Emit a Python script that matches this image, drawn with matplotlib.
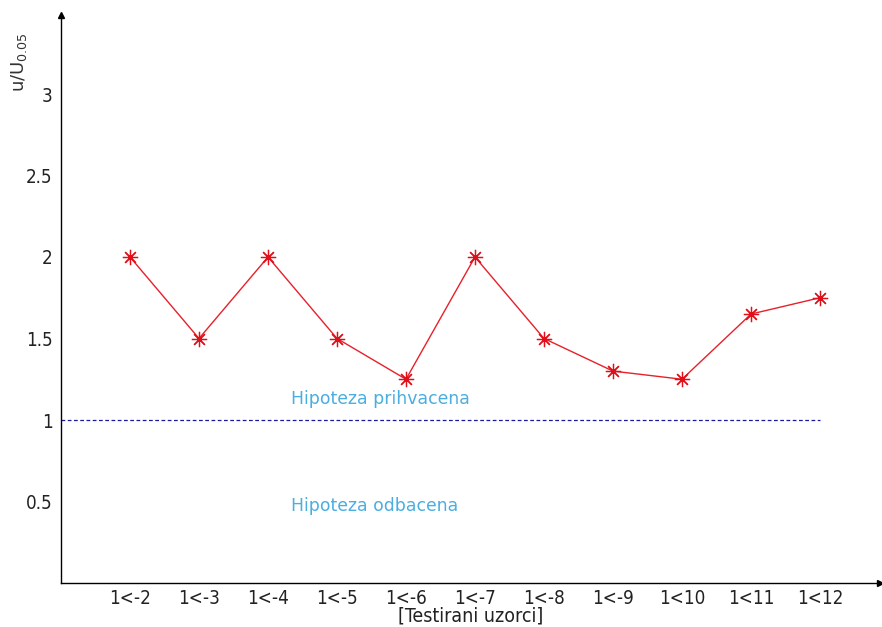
import matplotlib
matplotlib.use("Agg")
import matplotlib.pyplot as plt

plt.rcParams['font.family'] = ['DejaVu Sans']

categories = ["1<-2", "1<-3", "1<-4", "1<-5", "1<-6", "1<-7", "1<-8", "1<-9", "1<10", "1<11", "1<12"]
values = [2.0, 1.5, 2.0, 1.5, 1.25, 2.0, 1.5, 1.3, 1.25, 1.65, 1.75]
threshold = 1.0
yticks = [0.5, 1, 1.5, 2, 2.5, 3]
ytick_labels = ["0.5", "1", "1.5", "2", "2.5", "3"]

fig = plt.figure(figsize=(8.82, 6.27), dpi=100)
W, H = 882, 627
left, right, bottom, top = 61, 880, 583, 15
ax = fig.add_axes([left / W, 1 - bottom / H, (right - left) / W, (bottom - top) / H])

xs = list(range(1, len(categories) + 1))
ax.plot(xs, values, color="#e8202a", lw=1.0, marker=(8, 2, 0), markersize=11,
        markeredgecolor="#e0101a", markeredgewidth=0.9, zorder=3)
ax.plot([0, len(categories)], [threshold, threshold], color="#1a1aa0", lw=0.9,
        linestyle=(0, (3, 2)), zorder=2)

ax.text(3.33, 1.13, "Hipoteza prihvacena", color="#4aaee0", fontsize=12.4,
        ha="left", va="center")
ax.text(3.33, 0.47, "Hipoteza odbacena", color="#4aaee0", fontsize=12.4,
        ha="left", va="center")

ymax = (bottom - top) / 163.0
xmax = (right - left) / 69.0
ax.set_xlim(0, xmax)
ax.set_ylim(0, ymax)
ax.set_xticks(xs)
ax.set_xticklabels(categories, fontsize=13.5, color="#222222", fontstretch="condensed")
ax.set_yticks(yticks)
ax.set_yticklabels(ytick_labels, fontsize=13.5, color="#222222", fontstretch="condensed")
ax.tick_params(length=0)
ax.tick_params(axis="x", pad=4)
ax.tick_params(axis="y", pad=6)
for s in ["top", "right"]:
    ax.spines[s].set_visible(False)
for s in ["left", "bottom"]:
    ax.spines[s].set_linewidth(1.0)
ax.plot(1, 0, ">k", transform=ax.transAxes, clip_on=False, markersize=5)
ax.plot(0, 1, "^k", transform=ax.transAxes, clip_on=False, markersize=5)

ax.set_xlabel("[Testirani uzorci]", fontsize=14, color="#222222", labelpad=-1,
              fontstretch="condensed")
fig.text(19 / W, 1 - 62 / H, r"u/U$_{0.05}$", rotation=90, fontsize=13,
         color="#333333", ha="center", va="center")

fig.savefig("out.png", dpi=100)
